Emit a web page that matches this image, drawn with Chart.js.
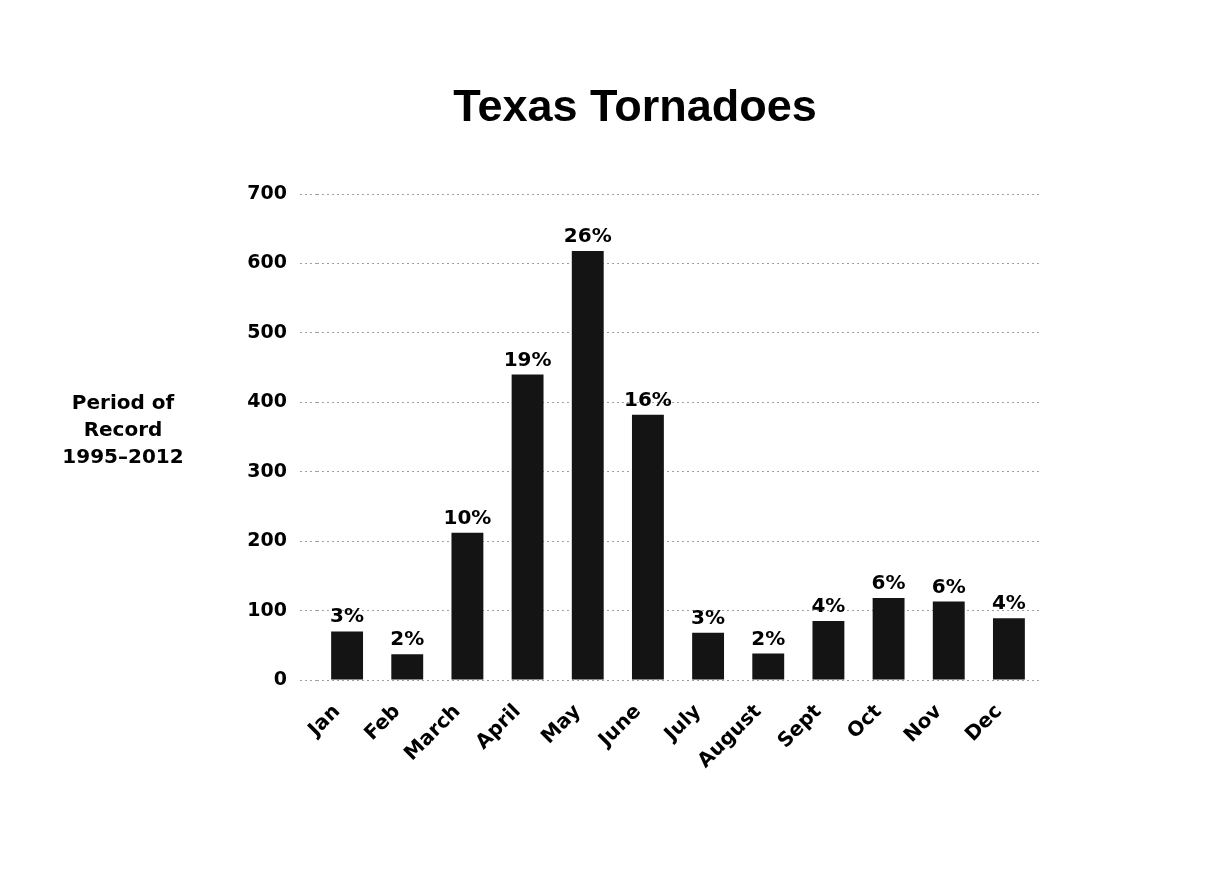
<!DOCTYPE html>
<html>
<head>
<meta charset="utf-8">
<title>Texas Tornadoes</title>
<script src="https://cdn.jsdelivr.net/npm/chart.js@4/dist/chart.umd.min.js"></script>
<style>
  html, body { margin: 0; padding: 0; background: #fff; }
  #wrap { width: 1207px; height: 887px; }
</style>
</head>
<body>
<div id="wrap"><canvas id="chart" width="1207" height="887"></canvas></div>
<script>
// Monthly tornado counts, Texas, period of record 1995-2012
const months = ['Jan', 'Feb', 'March', 'April', 'May', 'June', 'July', 'August', 'Sept', 'Oct', 'Nov', 'Dec'];
const counts = [70, 37, 212, 440, 618, 382, 68, 38, 85, 118, 113, 89];
const shares = ['3%', '2%', '10%', '19%', '26%', '16%', '3%', '2%', '4%', '6%', '6%', '4%'];
const sideNote = ['Period of', 'Record', '1995\u20132012'];
const chartTitle = 'Texas Tornadoes';

const SMALL_FONT = 'bold 20px "DejaVu Sans", sans-serif';

// title, side note and the percent labels over each bar
const annotations = {
    id: 'annotations',
    afterDatasetsDraw(chart) {
        const ctx = chart.ctx;
        ctx.save();
        ctx.fillStyle = '#000';

        ctx.font = 'bold 45px "Liberation Sans", Arial, sans-serif';
        ctx.textAlign = 'center';
        ctx.textBaseline = 'alphabetic';
        ctx.fillText(chartTitle, 635, 121);

        ctx.font = SMALL_FONT;
        sideNote.forEach((line, i) => ctx.fillText(line, 123, 409 + i * 27));

        const meta = chart.getDatasetMeta(0);
        meta.data.forEach((bar, i) => {
            ctx.fillText(shares[i], bar.x, bar.y - 9);
        });
        ctx.restore();
    }
};

new Chart(document.getElementById('chart'), {
    type: 'bar',
    data: {
        labels: months,
        datasets: [{
            label: 'Tornadoes',
            data: counts,
            backgroundColor: '#141414',
            borderWidth: 0,
            barPercentage: 0.53,
            categoryPercentage: 1
        }]
    },
    options: {
        responsive: false,
        animation: false,
        devicePixelRatio: 1,
        layout: {
            padding: { left: 217, right: 168, top: 194, bottom: 97 }
        },
        plugins: {
            legend: { display: false },
            tooltip: { enabled: false }
        },
        scales: {
            y: {
                min: 0,
                max: 700,
                afterFit: s => { s.width = 100; },
                ticks: {
                    stepSize: 100,
                    color: '#000',
                    padding: 13,
                    font: { family: '"DejaVu Sans", sans-serif', size: 19, weight: 'bold' }
                },
                grid: {
                    color: '#a0a0a0',
                    lineWidth: 1,
                    drawTicks: true,
                    tickLength: 17,
                    tickBorderDash: [2, 3]
                },
                border: { display: false, dash: [2, 3] }
            },
            x: {
                afterFit: s => { s.height = 110; },
                ticks: {
                    color: '#000',
                    maxRotation: 45,
                    minRotation: 45,
                    padding: 12,
                    labelOffset: -10,
                    font: { family: '"DejaVu Sans", sans-serif', size: 20, weight: 'bold' }
                },
                grid: { display: false },
                border: { display: false }
            }
        }
    },
    plugins: [annotations]
});
</script>
</body>
</html>
